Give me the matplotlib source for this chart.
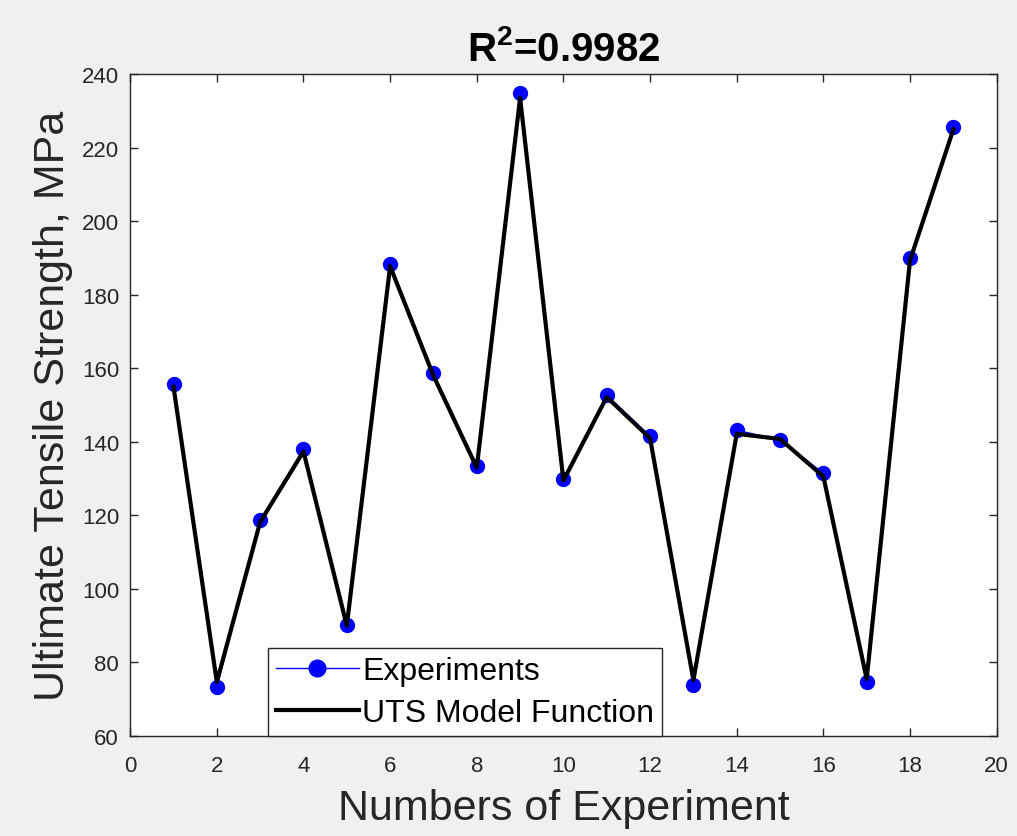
import numpy as np
import matplotlib.pyplot as plt

plt.rcParams['font.family'] = ['Liberation Sans', 'DejaVu Sans']
plt.rcParams['mathtext.fontset'] = 'custom'
plt.rcParams['mathtext.rm'] = 'Liberation Sans'
plt.rcParams['mathtext.bf'] = 'Liberation Sans:bold'

# experiment number, measured UTS and model prediction (MPa)
experiment_no = list(range(1, 20))
uts_measured = [155.7, 73.3, 118.7, 138.0, 90.2, 188.3, 158.7, 133.4, 234.8, 129.9,
                152.7, 141.6, 73.9, 143.2, 140.5, 131.5, 74.7, 190.0, 225.6]
uts_model = [155.0, 74.7, 118.2, 137.4, 90.0, 187.8, 158.0, 133.0, 233.6, 129.5,
             152.2, 141.0, 75.2, 142.2, 140.8, 130.6, 75.5, 189.4, 225.0]
r2_text = r'$\mathbf{R^2}$=0.9982'

fig = plt.figure(figsize=(10.17, 8.37), dpi=100, facecolor='#f0f0f0')
ax = fig.add_axes([0.128, 0.1195, 0.852, 0.7905])
ax.set_facecolor('white')

ax.plot(experiment_no, uts_measured, '-o', color='blue', lw=1, ms=10, label='Experiments')
ax.plot(experiment_no, uts_model, '-', color='black', lw=3, label='UTS Model Function')

ax.set_xlim(0, 20)
ax.set_ylim(60, 240)
ax.set_xticks(np.arange(0, 21, 2))
ax.set_yticks(np.arange(60, 241, 20))
ax.tick_params(direction='in', top=True, right=True, length=6, width=1,
               labelsize=16, colors='#262626')
ax.tick_params(axis='x', pad=14)
ax.tick_params(axis='y', pad=8)
for s in ax.spines.values():
    s.set_color('#262626')
    s.set_linewidth(1)

ax.set_xlabel('Numbers of Experiment', fontsize=31, color='#262626', labelpad=8)
ax.set_ylabel('Ultimate Tensile Strength, MPa', fontsize=31, color='#262626', labelpad=6)
ax.set_title(r2_text, fontsize=29, fontweight='bold', pad=10)

leg = ax.legend(loc='lower left', bbox_to_anchor=(0.159, 0.0), fontsize=23,
                frameon=True, fancybox=False, edgecolor='#262626', framealpha=1,
                borderpad=0.25, handlelength=2.6, handletextpad=0.1, labelspacing=0.38,
                borderaxespad=0, markerscale=1.2)
leg.get_frame().set_linewidth(1)

fig.savefig('out.png', dpi=100, facecolor=fig.get_facecolor())
